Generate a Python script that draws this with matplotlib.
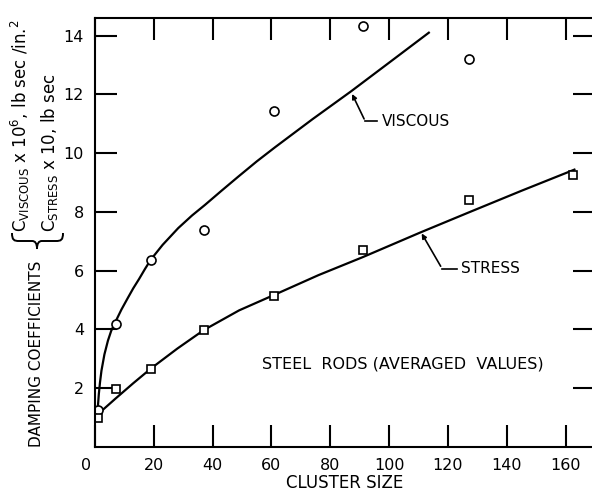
import matplotlib
matplotlib.use('Agg')
import matplotlib.pyplot as plt
from matplotlib.path import Path
from matplotlib.patches import PathPatch
from matplotlib.transforms import ScaledTranslation

plt.rcParams['font.family'] = ['DejaVu Sans']
plt.rcParams['mathtext.fontset'] = 'dejavusans'

viscous_size = [1, 7, 19, 37, 61, 91, 127]
viscous_coef = [1.26, 4.2, 6.38, 7.4, 11.45, 14.34, 13.21]
stress_size = [1, 7, 19, 37, 61, 91, 127, 162.5]
stress_coef = [1.0, 1.99, 2.67, 3.98, 5.14, 6.69, 8.42, 9.25]

# hand drawn curves through the points
viscous_curve_x = [0.8, 1.0, 1.3, 1.7, 2.2, 3.2, 4.4, 5.5, 6.9, 9, 11.2, 13, 15, 17, 19,
                   23, 28.3, 33, 37.4, 43, 48.7, 55, 61.2, 74, 87, 100, 113.5]
viscous_curve_y = [1.1, 1.4, 1.8, 2.2, 2.6, 3.15, 3.62, 3.95, 4.25, 4.68, 5.08, 5.4, 5.72, 6.06, 6.38,
                   6.88, 7.45, 7.88, 8.24, 8.72, 9.2, 9.72, 10.2, 11.16, 12.1, 13.08, 14.1]
stress_curve_x = [0.8, 7, 13, 19, 28, 37, 49, 61, 76, 91, 110.6, 127, 145, 163]
stress_curve_y = [1.1, 1.65, 2.17, 2.67, 3.35, 3.98, 4.65, 5.18, 5.85, 6.46, 7.3, 7.98, 8.72, 9.44]

x_ticks = [0, 20, 40, 60, 80, 100, 120, 140, 160]
y_ticks = [2, 4, 6, 8, 10, 12, 14]

W, H = 592, 495
fig = plt.figure(figsize=(W / 100, H / 100), dpi=100)
ax = fig.add_axes([95 / W, 48 / H, 500 / W, 429 / H])

ax.plot(viscous_curve_x, viscous_curve_y, color='black', lw=1.6)
ax.plot(stress_curve_x, stress_curve_y, color='black', lw=1.6)
ax.plot(viscous_size, viscous_coef, 'o', ms=6.5, mfc='white', mec='black', mew=1.2)
ax.plot(stress_size, stress_coef, 's', ms=6, mfc='white', mec='black', mew=1.2)

ax.set_xlim(0, 170)
ax.set_ylim(0, 14.6)
ax.set_xticks(x_ticks)
ax.set_yticks(y_ticks)
ax.tick_params(direction='in', length=16, width=1.5, labelsize=11.5,
               top=True, right=True, pad=8)
for s in ax.spines.values():
    s.set_linewidth(1.5)

# the "0" label sits a bit left of the corner
lbl0 = ax.get_xticklabels()[0]
lbl0.set_transform(lbl0.get_transform() + ScaledTranslation(-9 / 100, 0, fig.dpi_scale_trans))

ax.set_xlabel('CLUSTER SIZE', fontsize=12, labelpad=1)

# leader labels
ax.annotate('', xy=(87, 12.1), xytext=(91.9, 11.08),
            arrowprops=dict(arrowstyle='-|>', color='black', lw=1.2, mutation_scale=7))
ax.plot([91.9, 95.9], [11.08, 11.08], color='black', lw=1.2)
ax.text(97.4, 11.08, 'VISCOUS', fontsize=11, va='center', ha='left')

ax.annotate('', xy=(110.6, 7.35), xytext=(118.0, 6.07),
            arrowprops=dict(arrowstyle='-|>', color='black', lw=1.2, mutation_scale=7))
ax.plot([118.0, 123.1], [6.07, 6.07], color='black', lw=1.2)
ax.text(124.3, 6.07, 'STRESS', fontsize=11, va='center', ha='left')

ax.text(56.7, 2.82, 'STEEL  RODS (AVERAGED  VALUES)', fontsize=11.5, va='center', ha='left')

# y label block
fig.text(37 / W, (H - 354) / H, 'DAMPING COEFFICIENTS', rotation=90,
         fontsize=11, ha='center', va='center')

# curly brace joining the two unit lines (pixel coords, y down)
brace_px = [(12, 233), (12, 240), (14, 241), (19, 241), (32, 241),
            (35, 241), (37, 243), (37, 249), (37, 243), (39, 241), (42, 241),
            (56, 241), (61, 241), (63, 240), (63, 233)]
codes = [Path.MOVETO, Path.CURVE4, Path.CURVE4, Path.CURVE4, Path.LINETO,
         Path.CURVE4, Path.CURVE4, Path.CURVE4, Path.CURVE4, Path.CURVE4, Path.CURVE4,
         Path.LINETO, Path.CURVE4, Path.CURVE4, Path.CURVE4]
brace = Path([(x / W, (H - y) / H) for x, y in brace_px], codes)
fig.add_artist(PathPatch(brace, transform=fig.transFigure, fill=False, lw=1.4, ec='black'))

fig.text(20 / W, (H - 232) / H,
         r'C$_{\mathrm{VISCOUS}}$ x 10$^{6}$, lb sec /in.$^{2}$',
         rotation=90, rotation_mode='anchor', fontsize=12, ha='left', va='center')
fig.text(50 / W, (H - 232) / H,
         r'C$_{\mathrm{STRESS}}$ x 10, lb sec',
         rotation=90, rotation_mode='anchor', fontsize=12, ha='left', va='center')

fig.savefig('out.png', dpi=100)
